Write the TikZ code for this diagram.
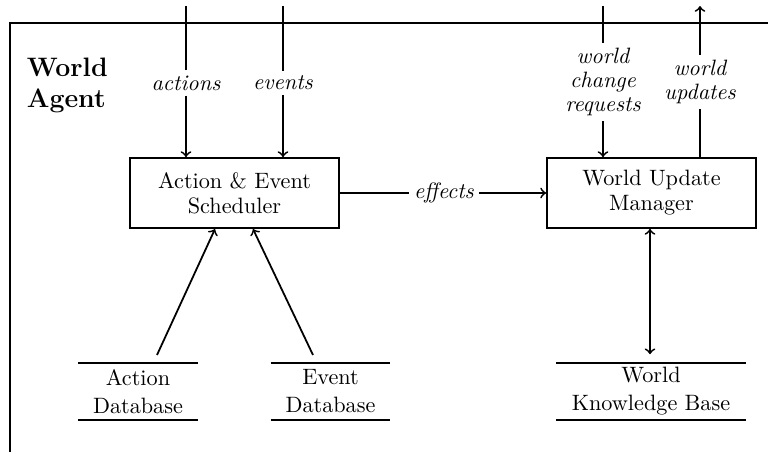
\documentclass[tikz,border=0pt]{standalone}
\usetikzlibrary{calc}
\begin{document}
\begin{tikzpicture}[x=0.45pt,y=-0.45pt,
  every path/.style={line width=0.8pt},
  procbox/.style={draw,line width=0.8pt,minimum width=209*0.45pt,minimum height=70*0.45pt,align=center,inner sep=0pt,font=\fontsize{10}{11.25}\selectfont},
  lbl/.style={align=center,font=\itshape\fontsize{10}{10.8}\selectfont,inner sep=2pt},
  db/.style={minimum height=55*0.45pt,inner sep=0pt,align=center,font=\fontsize{10}{12.6}\selectfont},
  dbline/.style={line width=1.15pt},
  arr/.style={->,line width=0.8pt}]
\useasboundingbox (0,0) rectangle (768,452);
% frame
\draw (775,23) -- (10,23) -- (10,460);
\node[anchor=north west,align=left,inner sep=0pt,font=\bfseries\fontsize{12}{13.8}\selectfont] (title) at (26,57.5) {World\\Agent};
% boxes
\node[procbox] (sched) at (234.5,193) {Action \& Event\\Scheduler};
\node[procbox] (wum) at (651.5,193) {World Update\\Manager};
% top coordinates
\coordinate (tA) at (186,6);
\coordinate (tB) at (283,6);
\coordinate (tC) at (603,6);
\coordinate (tD) at (700,6);
% labels
\node[lbl] (actL) at (186,83) {actions};
\node[lbl] (evL) at (283,83) {events};
\node[lbl] (wcrL) at (603,82) {world\\change\\requests};
\node[lbl] (wuL) at (700,82) {world\\updates};
\node[lbl] (effL) at (444,193) {effects};
% databases
\node[db,minimum width=118*0.45pt] (adb) at (138,391.5) {Action\\Database};
\node[db,minimum width=118*0.45pt] (edb) at (330.5,391.5) {Event\\Database};
\node[db,minimum width=188*0.45pt] (wkb) at (651,391.5) {World\\Knowledge Base};
\foreach \d in {adb,edb,wkb}{
  \draw[dbline] (\d.north west) -- (\d.north east);
  \draw[dbline] (\d.south west) -- (\d.south east);
}
% connectors
\draw (tA) -- (actL);
\draw[arr] (actL) -- (sched.north -| actL);
\draw (tB) -- (evL);
\draw[arr] (evL) -- (sched.north -| evL);
\draw (tC) -- (wcrL);
\draw[arr] (wcrL) -- (wum.north -| wcrL);
\draw (wum.north -| wuL) -- (wuL);
\draw[arr] (wuL) -- (tD);
\draw (sched.east) -- (effL);
\draw[arr] (effL) -- (wum.west);
\coordinate (aOut) at (157,355);
\coordinate (aIn) at (215,229);
\coordinate (eOut) at (313,355);
\coordinate (eIn) at (253,229);
\draw[arr] (aOut) -- (aIn);
\draw[arr] (eOut) -- (eIn);
\draw[<->,line width=0.8pt,shorten <=4pt] (wkb.north -| 650,0) -- (wum.south -| 650,0);
\end{tikzpicture}
\end{document}
